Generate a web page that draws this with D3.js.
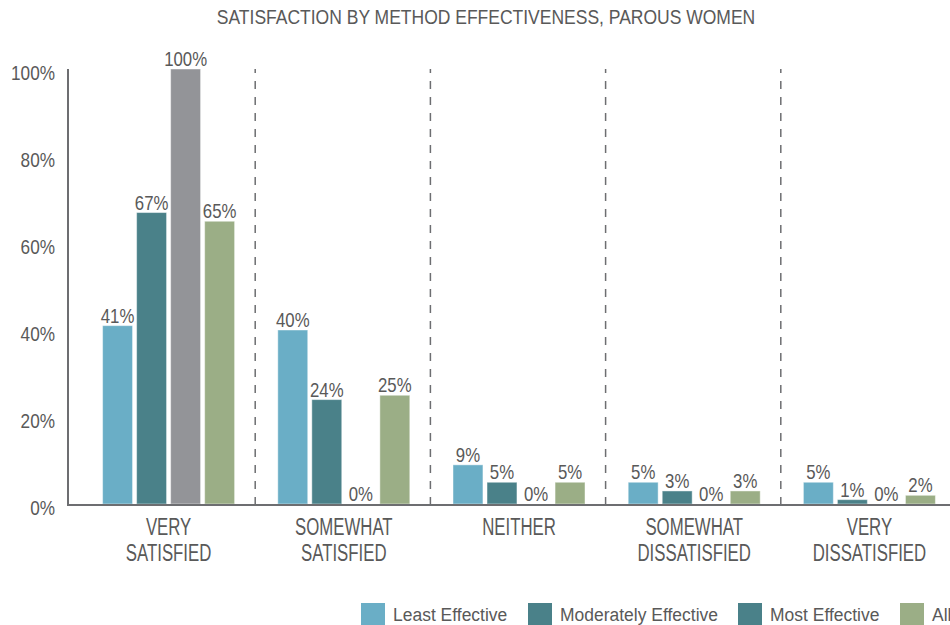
<!DOCTYPE html>
<html lang="en">
  <head>
    <meta charset="UTF-8" />
    <title>satisfaction by method effectiveness</title>
    <script src="https://cdn.jsdelivr.net/npm/d3@7"></script>
    <style>
      body { margin: 0; background: #fff; }
      text { font-family: "Liberation Sans", Arial, sans-serif; fill: #595959; }
    </style>
  </head>
  <body>
    <svg id="chart" width="950" height="625"></svg>
    <script>
      // data
      let categories = [["VERY", "SATISFIED"], ["SOMEWHAT", "SATISFIED"], ["NEITHER"], ["SOMEWHAT", "DISSATISFIED"], ["VERY", "DISSATISFIED"]];
      let series = ["Least Effective", "Moderately Effective", "Most Effective", "All"];
      let leastEffective = [41, 40, 9, 5, 5];
      let moderatelyEffective = [67, 24, 5, 3, 1];
      let mostEffective = [100, 0, 0, 0, 0];
      let allMethods = [65, 25, 5, 3, 2];
      let yTicks = [0, 20, 40, 60, 80, 100];

      let barColors = ["#6aaec6", "#4a8189", "#939498", "#9bae86"];
      // legend swatch for "Most Effective" is teal in the original too
      let legendColors = ["#6aaec6", "#4a8189", "#4a8189", "#9bae86"];

      let values = [leastEffective, moderatelyEffective, mostEffective, allMethods];

      let svg = d3.select("#chart");

      // narrow-looking text: squeeze horizontally around the anchor point
      function narrow(sel, x, y, sx) {
        return sel
          .attr("x", 0).attr("y", 0)
          .attr("transform", (d, i) => `translate(${x(d, i)},${y(d, i)}) scale(${sx},1)`);
      }
      let f = v => () => v;

      let x0 = d3.scaleBand().domain(d3.range(categories.length)).range([81, 957]);
      let x1 = d3.scaleBand().domain(d3.range(series.length)).range([-66, 66]).paddingInner(0.12);
      let y = d3.scaleLinear().domain([0, 100]).range([504, 69]);

      // title
      narrow(svg.append("text"), f(486), f(24), 0.875)
        .attr("text-anchor", "middle")
        .style("font-size", "20px")
        .text("SATISFACTION BY METHOD EFFECTIVENESS, PAROUS WOMEN");

      // y tick labels
      narrow(svg.append("g").selectAll("text").data(yTicks).join("text"),
          f(55), d => y(d) + 11, 0.86)
        .attr("text-anchor", "end")
        .style("font-size", "20px")
        .text(d => d + "%");

      // dashed separators
      svg.append("g").selectAll("line")
        .data(d3.range(1, categories.length))
        .join("line")
        .attr("x1", d => x0(d) - 1).attr("x2", d => x0(d) - 1)
        .attr("y1", y(100)).attr("y2", y(0))
        .attr("stroke", "#6d6e71")
        .attr("stroke-width", 1.5)
        .attr("stroke-dasharray", "8,8")
        .attr("stroke-dashoffset", 4);

      // bars
      let groups = svg.append("g").selectAll("g")
        .data(categories)
        .join("g")
        .attr("transform", (d, i) => `translate(${x0(i) + x0.bandwidth() / 2},0)`);

      groups.each(function (c, ci) {
        let g = d3.select(this);
        let rows = series.map((s, si) => ({ si: si, v: values[si][ci] }));
        g.selectAll("rect")
          .data(rows)
          .join("rect")
          .attr("x", d => x1(d.si))
          .attr("width", x1.bandwidth())
          .attr("y", d => y(d.v))
          .attr("height", d => y(0) - y(d.v))
          .attr("fill", d => barColors[d.si])
          .attr("stroke", "rgba(255,255,255,0.45)")
          .attr("stroke-width", 1);
        narrow(g.selectAll("text.val").data(rows).join("text"),
            d => x1(d.si) + x1.bandwidth() / 2, d => y(d.v) - 3, 0.84)
          .attr("class", "val")
          .attr("text-anchor", "middle")
          .style("font-size", "20px")
          .text(d => d.v + "%");
        narrow(g.selectAll("text.cat").data(c).join("text"),
            f(0), (d, i) => 535 + i * 26, 0.73)
          .attr("class", "cat")
          .attr("text-anchor", "middle")
          .style("font-size", "23px")
          .text(d => d);
      });

      // axes lines
      svg.append("line")
        .attr("x1", 68).attr("x2", 68)
        .attr("y1", y(100)).attr("y2", y(0) + 1)
        .attr("stroke", "#6d6e71").attr("stroke-width", 2);
      svg.append("line")
        .attr("x1", 67).attr("x2", 950)
        .attr("y1", y(0) + 1).attr("y2", y(0) + 1)
        .attr("stroke", "#6d6e71").attr("stroke-width", 2);

      // legend
      let legendX = [361, 528, 738, 900];
      let legend = svg.append("g").selectAll("g")
        .data(series)
        .join("g")
        .attr("transform", (d, i) => `translate(${legendX[i]},603)`);
      legend.append("rect")
        .attr("width", 24).attr("height", 22)
        .attr("fill", (d, i) => legendColors[i]);
      narrow(legend.append("text"), f(32), f(18), 0.92)
        .style("font-size", "19px")
        .text(d => d);
    </script>
  </body>
</html>
